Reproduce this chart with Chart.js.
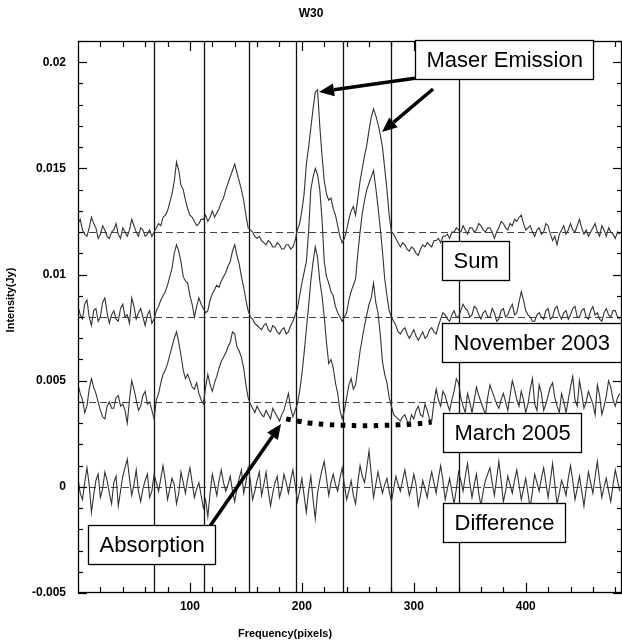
<!DOCTYPE html>
<html>
<head>
<meta charset="utf-8">
<script src="https://cdn.jsdelivr.net/npm/chart.js@4.4.1/dist/chart.umd.min.js"></script>
<style>
  html, body { margin: 0; padding: 0; background: #fff; }
</style>
</head>
<body>
<canvas id="myChart" width="622" height="642"></canvas>
<script>
// channel numbers (x) shared by all four spectra
const channels = [
	0, 2, 4, 6, 8, 10, 12, 14, 16, 18, 20, 22, 24, 26, 28, 30, 32, 34, 36, 38,
	40, 42, 44, 46, 48, 50, 52, 54, 56, 58, 60, 62, 64, 66, 68, 70, 72, 74, 76, 78,
	80, 82, 84, 86, 88, 90, 92, 94, 96, 98, 100, 102, 104, 106, 108, 110, 112, 114, 116, 118,
	120, 122, 124, 126, 128, 130, 132, 134, 136, 138, 140, 142, 144, 146, 148, 150, 152, 154, 156, 158,
	160, 162, 164, 166, 168, 170, 172, 174, 176, 178, 180, 182, 184, 186, 188, 190, 192, 194, 196, 198,
	200, 202, 204, 206, 208, 210, 212, 214, 216, 218, 220, 222, 224, 226, 228, 230, 232, 234, 236, 238,
	240, 242, 244, 246, 248, 250, 252, 254, 256, 258, 260, 262, 264, 266, 268, 270, 272, 274, 276, 278,
	280, 282, 284, 286, 288, 290, 292, 294, 296, 298, 300, 302, 304, 306, 308, 310, 312, 314, 316, 318,
	320, 322, 324, 326, 328, 330, 332, 334, 336, 338, 340, 342, 344, 346, 348, 350, 352, 354, 356, 358,
	360, 362, 364, 366, 368, 370, 372, 374, 376, 378, 380, 382, 384, 386, 388, 390, 392, 394, 396, 398,
	400, 402, 404, 406, 408, 410, 412, 414, 416, 418, 420, 422, 424, 426, 428, 430, 432, 434, 436, 438,
	440, 442, 444, 446, 448, 450, 452, 454, 456, 458, 460, 462, 464, 466, 468, 470, 472, 474, 476, 478,
	480, 482, 484,
];

const sumValues = [
	0.0124, 0.0126, 0.0121, 0.0119, 0.0118, 0.0122, 0.0127, 0.0124, 0.0122, 0.0117, 0.0119, 0.0123, 0.0121, 0.0118, 0.0117, 0.0120, 0.0121, 0.0124, 0.0119, 0.0117,
	0.0122, 0.0120, 0.0118, 0.0121, 0.0126, 0.0123, 0.0120, 0.0118, 0.0122, 0.0121, 0.0118, 0.0119, 0.0121, 0.0118, 0.0120, 0.0122, 0.0124, 0.0123, 0.0127, 0.0128,
	0.0130, 0.0134, 0.0138, 0.0144, 0.0153, 0.0149, 0.0142, 0.0140, 0.0135, 0.0131, 0.0128, 0.0127, 0.0125, 0.0123, 0.0124, 0.0126, 0.0126, 0.0128, 0.0125, 0.0127,
	0.0130, 0.0127, 0.0129, 0.0131, 0.0134, 0.0136, 0.0140, 0.0143, 0.0146, 0.0149, 0.0152, 0.0148, 0.0144, 0.0140, 0.0135, 0.0128, 0.0122, 0.0121, 0.0120, 0.0118,
	0.0117, 0.0118, 0.0116, 0.0115, 0.0114, 0.0116, 0.0115, 0.0113, 0.0113, 0.0115, 0.0114, 0.0112, 0.0112, 0.0114, 0.0114, 0.0112, 0.0113, 0.0116, 0.0121, 0.0124,
	0.0130, 0.0138, 0.0152, 0.0160, 0.0169, 0.0178, 0.0186, 0.0187, 0.0170, 0.0156, 0.0144, 0.0138, 0.0135, 0.0136, 0.0131, 0.0128, 0.0123, 0.0118, 0.0115, 0.0117,
	0.0121, 0.0126, 0.0130, 0.0132, 0.0128, 0.0136, 0.0144, 0.0150, 0.0156, 0.0161, 0.0168, 0.0174, 0.0178, 0.0175, 0.0171, 0.0166, 0.0160, 0.0150, 0.0140, 0.0128,
	0.0120, 0.0119, 0.0117, 0.0115, 0.0113, 0.0115, 0.0114, 0.0112, 0.0111, 0.0113, 0.0112, 0.0110, 0.0109, 0.0112, 0.0114, 0.0113, 0.0115, 0.0114, 0.0113, 0.0116,
	0.0116, 0.0117, 0.0115, 0.0118, 0.0118, 0.0119, 0.0117, 0.0120, 0.0120, 0.0122, 0.0121, 0.0120, 0.0123, 0.0121, 0.0119, 0.0122, 0.0122, 0.0120, 0.0121, 0.0124,
	0.0123, 0.0121, 0.0120, 0.0122, 0.0122, 0.0120, 0.0117, 0.0120, 0.0122, 0.0125, 0.0124, 0.0122, 0.0121, 0.0124, 0.0123, 0.0126, 0.0125, 0.0127, 0.0128, 0.0124,
	0.0121, 0.0122, 0.0123, 0.0120, 0.0118, 0.0121, 0.0122, 0.0119, 0.0120, 0.0124, 0.0123, 0.0119, 0.0116, 0.0118, 0.0114, 0.0119, 0.0121, 0.0123, 0.0119, 0.0121,
	0.0124, 0.0121, 0.0120, 0.0123, 0.0126, 0.0122, 0.0119, 0.0121, 0.0118, 0.0120, 0.0122, 0.0124, 0.0120, 0.0118, 0.0123, 0.0121, 0.0118, 0.0122, 0.0120, 0.0119,
	0.0117, 0.0120, 0.0119,
];

const nov2003Values = [
	0.0085, 0.0081, 0.0079, 0.0086, 0.0088, 0.0080, 0.0076, 0.0083, 0.0084, 0.0078, 0.0080, 0.0087, 0.0089, 0.0082, 0.0077, 0.0081, 0.0083, 0.0079, 0.0078, 0.0084,
	0.0086, 0.0080, 0.0081, 0.0077, 0.0089, 0.0085, 0.0079, 0.0082, 0.0084, 0.0080, 0.0076, 0.0081, 0.0083, 0.0077, 0.0079, 0.0083, 0.0085, 0.0088, 0.0090, 0.0092,
	0.0095, 0.0099, 0.0103, 0.0110, 0.0114, 0.0111, 0.0106, 0.0099, 0.0097, 0.0096, 0.0090, 0.0086, 0.0080, 0.0085, 0.0089, 0.0086, 0.0084, 0.0082, 0.0083, 0.0088,
	0.0091, 0.0093, 0.0095, 0.0094, 0.0097, 0.0099, 0.0101, 0.0104, 0.0106, 0.0111, 0.0114, 0.0109, 0.0105, 0.0099, 0.0094, 0.0088, 0.0083, 0.0080, 0.0079, 0.0077,
	0.0076, 0.0075, 0.0074, 0.0076, 0.0077, 0.0074, 0.0073, 0.0076, 0.0075, 0.0073, 0.0072, 0.0074, 0.0075, 0.0072, 0.0073, 0.0076, 0.0078, 0.0081, 0.0084, 0.0090,
	0.0096, 0.0101, 0.0106, 0.0120, 0.0140, 0.0146, 0.0150, 0.0147, 0.0140, 0.0126, 0.0106, 0.0099, 0.0096, 0.0092, 0.0090, 0.0085, 0.0082, 0.0080, 0.0078, 0.0080,
	0.0082, 0.0088, 0.0092, 0.0095, 0.0098, 0.0110, 0.0120, 0.0129, 0.0135, 0.0140, 0.0143, 0.0146, 0.0149, 0.0141, 0.0132, 0.0122, 0.0111, 0.0098, 0.0090, 0.0083,
	0.0080, 0.0078, 0.0076, 0.0073, 0.0072, 0.0074, 0.0075, 0.0072, 0.0070, 0.0072, 0.0074, 0.0071, 0.0069, 0.0071, 0.0073, 0.0070, 0.0071, 0.0074, 0.0075, 0.0073,
	0.0072, 0.0076, 0.0079, 0.0082, 0.0081, 0.0079, 0.0078, 0.0081, 0.0083, 0.0080, 0.0080, 0.0083, 0.0086, 0.0084, 0.0083, 0.0080, 0.0081, 0.0085, 0.0084, 0.0081,
	0.0079, 0.0082, 0.0083, 0.0080, 0.0080, 0.0084, 0.0082, 0.0078, 0.0079, 0.0083, 0.0084, 0.0080, 0.0081, 0.0084, 0.0086, 0.0081, 0.0082, 0.0087, 0.0092, 0.0088,
	0.0083, 0.0081, 0.0080, 0.0078, 0.0078, 0.0081, 0.0082, 0.0080, 0.0079, 0.0083, 0.0084, 0.0079, 0.0080, 0.0084, 0.0085, 0.0081, 0.0079, 0.0082, 0.0083, 0.0079,
	0.0081, 0.0084, 0.0085, 0.0080, 0.0080, 0.0083, 0.0084, 0.0080, 0.0079, 0.0083, 0.0085, 0.0081, 0.0082, 0.0079, 0.0078, 0.0082, 0.0084, 0.0081, 0.0080, 0.0083,
	0.0083, 0.0080, 0.0079,
];

const mar2005Values = [
	0.0048, 0.0044, 0.0041, 0.0035, 0.0038, 0.0046, 0.0051, 0.0047, 0.0044, 0.0040, 0.0036, 0.0033, 0.0032, 0.0038, 0.0040, 0.0037, 0.0037, 0.0042, 0.0043, 0.0038,
	0.0039, 0.0036, 0.0030, 0.0041, 0.0050, 0.0046, 0.0041, 0.0036, 0.0038, 0.0043, 0.0045, 0.0039, 0.0040, 0.0036, 0.0032, 0.0041, 0.0044, 0.0049, 0.0053, 0.0055,
	0.0058, 0.0062, 0.0066, 0.0070, 0.0073, 0.0068, 0.0062, 0.0055, 0.0051, 0.0053, 0.0050, 0.0047, 0.0046, 0.0049, 0.0044, 0.0041, 0.0039, 0.0047, 0.0053, 0.0048,
	0.0045, 0.0049, 0.0052, 0.0056, 0.0059, 0.0061, 0.0063, 0.0066, 0.0068, 0.0073, 0.0072, 0.0066, 0.0064, 0.0061, 0.0056, 0.0048, 0.0042, 0.0039, 0.0037, 0.0035,
	0.0038, 0.0036, 0.0034, 0.0033, 0.0036, 0.0034, 0.0032, 0.0037, 0.0035, 0.0033, 0.0031, 0.0034, 0.0036, 0.0040, 0.0044, 0.0037, 0.0033, 0.0036, 0.0039, 0.0045,
	0.0053, 0.0063, 0.0074, 0.0085, 0.0097, 0.0106, 0.0113, 0.0108, 0.0097, 0.0090, 0.0080, 0.0068, 0.0058, 0.0060, 0.0056, 0.0049, 0.0044, 0.0036, 0.0032, 0.0036,
	0.0042, 0.0048, 0.0051, 0.0046, 0.0048, 0.0056, 0.0064, 0.0070, 0.0076, 0.0081, 0.0086, 0.0089, 0.0096, 0.0087, 0.0082, 0.0072, 0.0059, 0.0053, 0.0049, 0.0042,
	0.0038, 0.0034, 0.0033, 0.0032, 0.0031, 0.0033, 0.0034, 0.0031, 0.0030, 0.0034, 0.0032, 0.0036, 0.0038, 0.0034, 0.0033, 0.0039, 0.0036, 0.0032, 0.0031, 0.0040,
	0.0046, 0.0041, 0.0038, 0.0045, 0.0043, 0.0039, 0.0036, 0.0041, 0.0045, 0.0051, 0.0049, 0.0042, 0.0038, 0.0035, 0.0044, 0.0040, 0.0035, 0.0041, 0.0047, 0.0043,
	0.0040, 0.0037, 0.0034, 0.0042, 0.0048, 0.0045, 0.0042, 0.0039, 0.0037, 0.0041, 0.0044, 0.0040, 0.0036, 0.0043, 0.0050, 0.0046, 0.0041, 0.0038, 0.0045, 0.0041,
	0.0035, 0.0039, 0.0046, 0.0051, 0.0039, 0.0036, 0.0048, 0.0044, 0.0036, 0.0039, 0.0043, 0.0047, 0.0049, 0.0042, 0.0038, 0.0035, 0.0044, 0.0040, 0.0035, 0.0041,
	0.0047, 0.0052, 0.0041, 0.0038, 0.0050, 0.0044, 0.0037, 0.0040, 0.0045, 0.0042, 0.0039, 0.0034, 0.0048, 0.0043, 0.0034, 0.0038, 0.0043, 0.0050, 0.0047, 0.0041,
	0.0038, 0.0042, 0.0044,
];

const differenceValues = [
	0.0004, -0.0003, -0.0006, 0.0002, 0.0009, 0.0001, -0.0012, -0.0004, 0.0003, 0.0006, -0.0005, -0.0001, 0.0007, 0.0003, -0.0003, -0.0008, 0.0002, 0.0005, -0.0009, -0.0002,
	0.0005, 0.0009, 0.0013, 0.0004, -0.0004, 0.0001, 0.0008, -0.0002, -0.0007, -0.0001, 0.0003, 0.0006, -0.0005, -0.0002, 0.0006, 0.0002, -0.0002, 0.0004, 0.0010, 0.0003,
	-0.0006, -0.0001, 0.0004, 0.0001, -0.0008, -0.0003, 0.0007, 0.0002, -0.0003, 0.0004, 0.0009, 0.0002, -0.0005, -0.0001, 0.0002, -0.0004, -0.0010, -0.0006, -0.0014, -0.0003,
	0.0006, 0.0001, -0.0004, 0.0003, 0.0008, 0.0002, -0.0002, 0.0001, 0.0005, -0.0002, -0.0007, -0.0001, 0.0004, 0.0008, -0.0003, 0.0002, 0.0009, 0.0003, -0.0006, -0.0002,
	0.0003, 0.0007, -0.0004, 0.0001, 0.0007, -0.0002, -0.0009, -0.0003, 0.0002, 0.0005, -0.0005, -0.0001, 0.0006, 0.0002, -0.0003, 0.0003, 0.0008, 0.0001, -0.0007, -0.0002,
	0.0004, -0.0004, -0.0012, -0.0002, 0.0005, -0.0006, -0.0015, -0.0003, 0.0003, 0.0008, 0.0012, 0.0004, -0.0004, 0.0002, 0.0006, 0.0001, -0.0002, 0.0004, 0.0009, 0.0001,
	-0.0006, -0.0002, 0.0003, -0.0004, -0.0008, 0.0002, 0.0010, 0.0005, 0.0002, 0.0009, 0.0017, 0.0006, -0.0005, 0.0001, 0.0007, 0.0002, -0.0003, 0.0001, 0.0004, -0.0002,
	-0.0007, -0.0001, 0.0005, 0.0001, -0.0002, 0.0003, 0.0008, 0.0002, -0.0004, 0.0000, 0.0006, 0.0001, -0.0009, -0.0004, 0.0003, -0.0001, -0.0005, 0.0002, 0.0007, 0.0002,
	-0.0003, 0.0004, 0.0010, 0.0003, -0.0006, -0.0001, 0.0004, -0.0002, -0.0008, -0.0001, 0.0007, 0.0003, -0.0002, 0.0005, 0.0011, 0.0002, -0.0005, 0.0001, 0.0006, -0.0003,
	-0.0009, -0.0002, 0.0003, 0.0006, 0.0009, 0.0002, -0.0004, 0.0004, 0.0012, 0.0003, -0.0007, -0.0002, 0.0005, 0.0001, -0.0003, 0.0003, 0.0008, 0.0001, -0.0006, -0.0001,
	0.0004, -0.0003, -0.0010, -0.0002, 0.0006, 0.0002, -0.0002, 0.0004, 0.0009, 0.0002, -0.0005, 0.0003, 0.0011, 0.0001, -0.0008, -0.0003, 0.0003, 0.0000, -0.0004, 0.0004,
	0.0010, 0.0003, -0.0006, -0.0001, 0.0005, -0.0002, -0.0009, -0.0001, 0.0007, 0.0002, -0.0003, 0.0005, 0.0012, 0.0003, -0.0005, 0.0000, 0.0004, -0.0002, -0.0007, 0.0001,
	0.0008, 0.0003, -0.0002,
];

// fitted absorption trough under the March 2005 spectrum (thick dotted curve)
const absorptionX = [186, 196, 208, 222, 238, 254, 270, 286, 302, 316];
const absorptionY = [0.0032, 0.0031, 0.0030, 0.00294, 0.0029, 0.00288, 0.00289, 0.00292, 0.00297, 0.00305];

// dashed zero levels of each spectrum
const baselines = [0.012, 0.008, 0.004, 0];
// solid vertical markers (channels)
const markerLines = [68, 113, 153, 195, 237, 280, 340];

const xTickValues = [100, 200, 300, 400];
const xTickLabels = ["100", "200", "300", "400"];
const xMinorTicks = [20, 40, 60, 80, 120, 140, 160, 180, 220, 240, 260, 280, 320, 340, 360, 380, 420, 440, 460, 480];
const yTickValues = [-0.005, 0, 0.005, 0.01, 0.015, 0.02];
const yTickLabels = ["-0.005", "0", "0.005", "0.01", "0.015", "0.02"];
const yMinorTicks = [-0.004, -0.003, -0.002, -0.001, 0.001, 0.002, 0.003, 0.004, 0.006, 0.007, 0.008, 0.009,
	0.011, 0.012, 0.013, 0.014, 0.016, 0.017, 0.018, 0.019, 0.021];

// text boxes: left / top in data units
const labelBoxes = [
	{ text: "Maser Emission", x: 301, y: 0.02105 },
	{ text: "Sum", x: 325, y: 0.01158 },
	{ text: "November 2003", x: 325, y: 0.00771 },
	{ text: "March 2005", x: 326, y: 0.00348 },
	{ text: "Difference", x: 326, y: -0.00076 },
	{ text: "Absorption", x: 9, y: -0.0018 },
];
// arrows: from [x, y] to [x, y] in data units
const arrows = [
	{ from: [301, 0.01925], to: [215.3, 0.0186] },
	{ from: [317.2, 0.01874], to: [271.6, 0.01671] },
	{ from: [118, -0.00185], to: [181.4, 0.00296] },
];

const FONT = '"Liberation Sans", Arial, Helvetica, sans-serif';

function toPoints(xs, ys) {
	return xs.map((x, i) => ({ x: x, y: ys[i] }));
}

function spectrum(label, values) {
	return {
		label: label,
		data: toPoints(channels, values),
		borderColor: "#333",
		borderWidth: 1.1,
		pointRadius: 0,
		tension: 0,
		fill: false,
	};
}

function drawArrow(ctx, x0, y0, x1, y1) {
	const ang = Math.atan2(y1 - y0, x1 - x0);
	const head = 15;
	const half = 6.5;
	const bx = x1 - head * Math.cos(ang);
	const by = y1 - head * Math.sin(ang);
	ctx.lineWidth = 3.5;
	ctx.beginPath();
	ctx.moveTo(x0, y0);
	ctx.lineTo(bx, by);
	ctx.stroke();
	ctx.beginPath();
	ctx.moveTo(x1, y1);
	ctx.lineTo(bx + half * Math.sin(ang), by - half * Math.cos(ang));
	ctx.lineTo(bx - half * Math.sin(ang), by + half * Math.cos(ang));
	ctx.closePath();
	ctx.fill();
}

const overlay = {
	id: "overlay",
	beforeDatasetsDraw(chart) {
		const { ctx, chartArea: a, scales } = chart;
		ctx.save();
		ctx.beginPath();
		ctx.rect(a.left, a.top, a.right - a.left, a.bottom - a.top);
		ctx.clip();
		ctx.strokeStyle = "#111";
		ctx.lineWidth = 1.3;
		markerLines.forEach((v) => {
			const px = Math.round(scales.x.getPixelForValue(v)) + 0.5;
			ctx.beginPath();
			ctx.moveTo(px, a.top);
			ctx.lineTo(px, a.bottom);
			ctx.stroke();
		});
		ctx.setLineDash([7, 4]);
		ctx.lineWidth = 1;
		ctx.strokeStyle = "#444";
		baselines.forEach((v) => {
			const py = Math.round(scales.y.getPixelForValue(v)) + 0.5;
			ctx.beginPath();
			ctx.moveTo(a.left, py);
			ctx.lineTo(a.right, py);
			ctx.stroke();
		});
		ctx.restore();
	},
	afterDatasetsDraw(chart) {
		const { ctx, chartArea: a, scales } = chart;
		const xs = scales.x;
		const ys = scales.y;
		ctx.save();

		// frame
		ctx.strokeStyle = "#000";
		ctx.lineWidth = 1.3;
		ctx.strokeRect(a.left + 0.5, a.top + 0.5, a.right - a.left - 1, a.bottom - a.top - 1);

		// inward ticks on all sides
		ctx.lineWidth = 1.2;
		const tick = (x0, y0, x1, y1) => {
			ctx.beginPath();
			ctx.moveTo(x0, y0);
			ctx.lineTo(x1, y1);
			ctx.stroke();
		};
		xMinorTicks.concat(xTickValues).forEach((v) => {
			const px = Math.round(xs.getPixelForValue(v)) + 0.5;
			const len = xTickValues.includes(v) ? 10 : 6;
			tick(px, a.bottom, px, a.bottom - len);
			tick(px, a.top, px, a.top + len);
		});
		yMinorTicks.concat(yTickValues).forEach((v) => {
			const py = Math.round(ys.getPixelForValue(v)) + 0.5;
			const len = yTickValues.includes(v) ? 9 : 5;
			tick(a.left, py, a.left + len, py);
			tick(a.right, py, a.right - len, py);
		});

		// arrows
		ctx.fillStyle = "#000";
		ctx.strokeStyle = "#000";
		arrows.forEach((ar) => {
			drawArrow(ctx,
				xs.getPixelForValue(ar.from[0]), ys.getPixelForValue(ar.from[1]),
				xs.getPixelForValue(ar.to[0]), ys.getPixelForValue(ar.to[1]));
		});

		// boxed labels
		ctx.font = "22px " + FONT;
		ctx.textBaseline = "middle";
		ctx.textAlign = "left";
		labelBoxes.forEach((b) => {
			const left = Math.round(xs.getPixelForValue(b.x)) + 0.5;
			const top = Math.round(ys.getPixelForValue(b.y)) + 0.5;
			const w = Math.round(ctx.measureText(b.text).width) + 22;
			const h = 39;
			ctx.fillStyle = "#fff";
			ctx.fillRect(left, top, w, h);
			ctx.strokeStyle = "#000";
			ctx.lineWidth = 1.3;
			ctx.strokeRect(left, top, w, h);
			ctx.fillStyle = "#000";
			ctx.fillText(b.text, left + 11, top + h / 2 + 1);
		});

		// titles
		ctx.font = "bold 12px " + FONT;
		ctx.textAlign = "center";
		ctx.fillText("W30", 311, 14);
		ctx.font = "bold 11px " + FONT;
		ctx.fillText("Frequency(pixels)", 285, 634);
		ctx.translate(11, 300);
		ctx.rotate(-Math.PI / 2);
		ctx.fillText("Intensity(Jy)", 0, 0);
		ctx.restore();
	},
};

const canvas = document.getElementById("myChart");
const ctx = canvas.getContext("2d");

new Chart(ctx, {
	type: "line",
	data: {
		datasets: [
			spectrum("Sum", sumValues),
			spectrum("November 2003", nov2003Values),
			spectrum("March 2005", mar2005Values),
			spectrum("Difference", differenceValues),
			{
				label: "Absorption",
				data: toPoints(absorptionX, absorptionY),
				borderColor: "#000",
				borderWidth: 5,
				borderDash: [4.5, 6.5],
				borderCapStyle: "butt",
				pointRadius: 0,
				tension: 0.4,
				fill: false,
			},
		],
	},
	options: {
		responsive: false,
		animation: false,
		devicePixelRatio: 1,
		layout: { padding: { top: 41, right: 0, bottom: 0, left: 0 } },
		plugins: {
			legend: { display: false },
			tooltip: { enabled: false },
			title: { display: false },
		},
		scales: {
			x: {
				type: "linear",
				min: 0,
				max: 486,
				grid: { display: false, drawTicks: false },
				border: { display: false },
				afterBuildTicks: (s) => {
					s.ticks = xTickValues.map((v) => ({ value: v }));
				},
				afterFit: (s) => {
					s.height = 49;
				},
				ticks: {
					padding: 6,
					maxRotation: 0,
					autoSkip: false,
					color: "#000",
					font: { family: FONT, size: 12, weight: "bold" },
					callback: (v, i) => xTickLabels[i],
				},
			},
			y: {
				type: "linear",
				min: -0.005,
				max: 0.021,
				grid: { display: false, drawTicks: false },
				border: { display: false },
				afterBuildTicks: (s) => {
					s.ticks = yTickValues.map((v) => ({ value: v }));
				},
				afterFit: (s) => {
					s.width = 78;
				},
				ticks: {
					padding: 12,
					autoSkip: false,
					color: "#000",
					font: { family: FONT, size: 12, weight: "bold" },
					callback: (v, i) => yTickLabels[i],
				},
			},
		},
	},
	plugins: [overlay],
});
</script>
</body>
</html>
